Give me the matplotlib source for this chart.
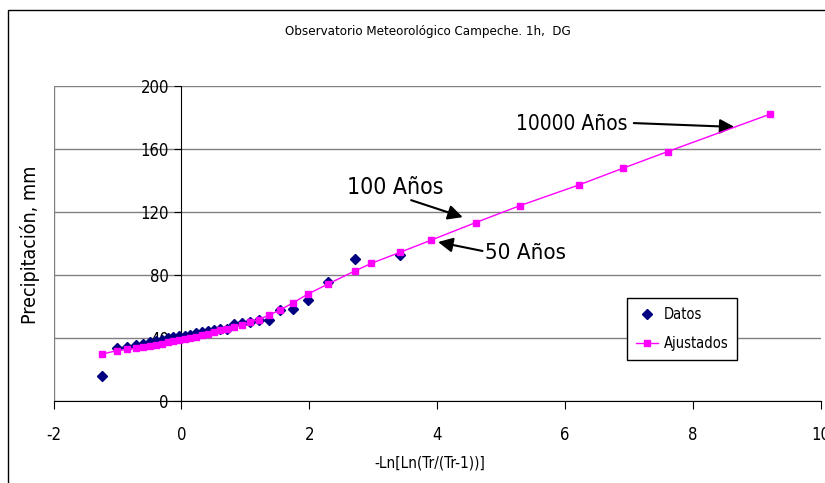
import matplotlib
matplotlib.use("Agg")
import matplotlib.pyplot as plt
from matplotlib.patches import Rectangle

plt.rcParams['font.family'] = ['DejaVu Sans']
plt.rcParams['font.stretch'] = 'condensed'
plt.rcParams['axes.unicode_minus'] = False

# reduced variate -Ln[Ln(Tr/(Tr-1))] of the 30 observed values (ascending)
x_datos = [-1.234, -1.008, -0.848, -0.717, -0.601, -0.496, -0.398, -0.304, -0.213, -0.124,
           -0.036, 0.052, 0.140, 0.230, 0.320, 0.413, 0.510, 0.610, 0.714, 0.825,
           0.943, 1.070, 1.209, 1.363, 1.537, 1.738, 1.979, 2.285, 2.708, 3.418]
y_datos = [16.0, 33.7, 34.3, 35.4, 36.2, 37.0, 38.0, 38.8, 39.8, 40.5,
           41.0, 41.2, 42.0, 42.8, 43.5, 44.0, 44.8, 45.5, 45.8, 48.5,
           49.6, 50.2, 51.0, 51.4, 57.8, 58.5, 64.0, 75.5, 90.0, 92.3]

# fitted (doble Gumbel) values
x_ajust = [-1.234, -1.008, -0.848, -0.717, -0.601, -0.496, -0.398, -0.304, -0.213, -0.124,
           -0.036, 0.052, 0.140, 0.230, 0.320, 0.413, 0.510, 0.610, 0.714, 0.825,
           0.943, 1.070, 1.209, 1.363, 1.537, 1.738, 1.979, 2.285, 2.708, 2.970,
           3.418, 3.902, 4.600, 5.296, 6.214, 6.907, 7.601, 9.210]
y_ajust = [29.7, 31.8, 32.6, 33.3, 34.0, 34.8, 35.6, 36.3, 37.0, 37.7,
           38.3, 39.1, 39.9, 40.8, 41.7, 42.7, 43.7, 44.7, 45.8, 47.0,
           48.3, 49.8, 51.6, 54.3, 57.6, 62.0, 67.8, 74.0, 82.4, 87.3,
           94.3, 102.0, 113.2, 124.0, 137.1, 147.8, 158.3, 182.2]

fig = plt.figure(figsize=(8.25, 4.83), dpi=100)
ax = fig.add_axes([53.5 / 825, 1 - 400.7 / 483, (821 - 53.5) / 825, (400.7 - 86) / 483])

# outer chart border
fig.patches.append(Rectangle((8 / 825, -0.1), 1.2, 1.1 - 10 / 483, transform=fig.transFigure,
                             fill=False, edgecolor='black', lw=1.0))

ax.set_xlim(-2, 10)
ax.set_ylim(0, 200)
ax.set_xticks(range(-2, 11, 2))
ax.set_yticks(range(0, 201, 40))
ax.yaxis.grid(True, color='#808080', lw=1)
ax.set_axisbelow(True)
ax.axvline(-2, color='#808080', lw=1, zorder=0)

for s in ['top', 'right']:
    ax.spines[s].set_visible(False)
ax.spines['left'].set_position(('data', 0))
ax.spines['left'].set_color('black')
ax.spines['bottom'].set_color('black')

ax.tick_params(axis='x', direction='out', length=6, pad=12, labelsize=12)
ax.tick_params(axis='y', direction='out', length=5, pad=4, labelsize=12)

ax.plot(x_datos, y_datos, linestyle='none', marker='D', color='#000080', markersize=5.5,
        label='Datos', zorder=3)
ax.plot(x_ajust, y_ajust, color='#FF00FF', lw=1, marker='s', markersize=4.5,
        label='Ajustados', zorder=4)

fig.text(428 / 825, 1 - 32 / 483, 'Observatorio Meteorológico Campeche. 1h,  DG',
         ha='center', va='center', fontsize=9.5)
fig.text(430 / 825, 1 - 463 / 483, '-Ln[Ln(Tr/(Tr-1))]', ha='center', va='center', fontsize=11)
fig.text(30 / 825, 1 - 245 / 483, 'Precipitación, mm', ha='center', va='center',
         rotation=90, fontsize=14)

arr = dict(arrowstyle='-|>', color='black', lw=1.5, mutation_scale=22)
ax.text(6.98, 175.9, '10000 Años', ha='right', va='center', fontsize=15)
ax.annotate('', xy=(8.69, 173.9), xytext=(7.03, 176.5), arrowprops=arr)
ax.text(3.34, 135.2, '100 Años', ha='center', va='center', fontsize=16.5)
ax.annotate('', xy=(4.44, 116.1), xytext=(3.55, 128.0), arrowprops=arr)
ax.text(4.75, 93.9, '50 Años', ha='left', va='center', fontsize=16)
ax.annotate('', xy=(3.97, 101.2), xytext=(4.75, 94.8), arrowprops=arr)

leg = ax.legend(loc='upper left', bbox_to_anchor=(627 / 825, 1 - 298 / 483),
                bbox_transform=fig.transFigure, borderaxespad=0, fontsize=10.5,
                frameon=True, fancybox=False, framealpha=1, edgecolor='black',
                handlelength=1.5, handletextpad=0.4, labelspacing=1.0, borderpad=0.6)
leg.get_frame().set_linewidth(1)

fig.savefig('out.png', dpi=100)
